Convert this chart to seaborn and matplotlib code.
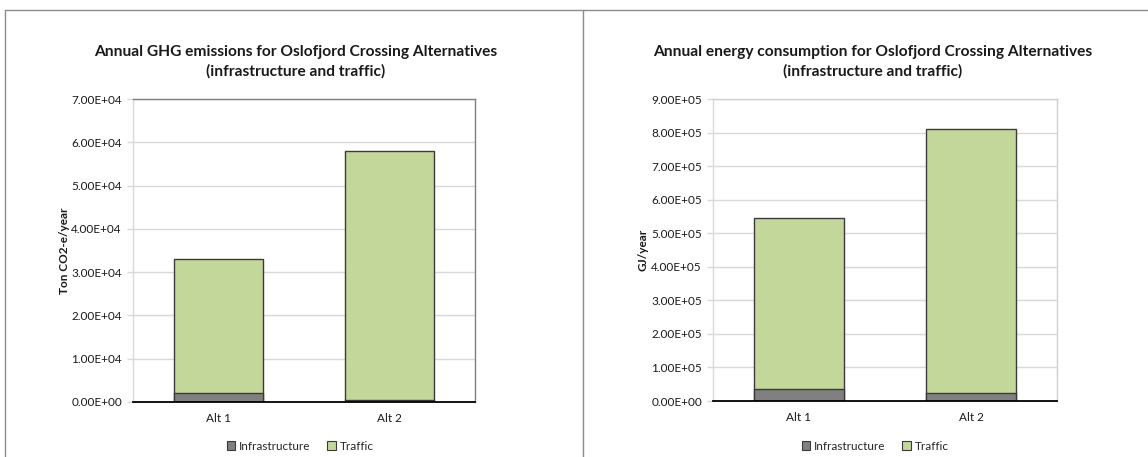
import matplotlib
matplotlib.use("Agg")
import matplotlib.pyplot as plt
from matplotlib.lines import Line2D
from matplotlib.patches import Patch
from matplotlib.ticker import FuncFormatter, FixedLocator
import pandas as pd
import seaborn as sns

# ---- data -------------------------------------------------------------
alternatives = ["Alt 1", "Alt 2"]
ghg_infrastructure = [2000, 500]          # ton CO2-e / year
ghg_traffic = [31100, 57500]
energy_infrastructure = [37000, 24000]    # GJ / year
energy_traffic = [508000, 786000]

series_names = ["Infrastructure", "Traffic"]
ghg_ticks = [0, 10000, 20000, 30000, 40000, 50000, 60000, 70000]
energy_ticks = [0, 100000, 200000, 300000, 400000, 500000, 600000, 700000, 800000, 900000]

# ---- style ------------------------------------------------------------
sns.set_theme(style="white")
plt.rcParams["font.family"] = ["Lato", "DejaVu Sans"]

INFRA_COLOR = "#808080"
TRAFFIC_COLOR = "#c4d79b"
EDGE_COLOR = "#3a3a3a"
GRID_COLOR = "#d9d9d9"
TEXT_COLOR = "#1a1a1a"
SMALL = 8.5

fig = plt.figure(figsize=(11.48, 4.57), dpi=100)
W, H = 1148, 457


def px_axes(x0, y0, x1, y1):
    return fig.add_axes([x0 / W, 1 - y1 / H, (x1 - x0) / W, (y1 - y0) / H])


def draw_panel(ax, infra, traffic, ticks, ylabel, frame_color, labelpad):
    df = pd.DataFrame({
        "alt": alternatives,
        "infra": infra,
        "total": [a + b for a, b in zip(infra, traffic)],
    })
    # stacked look: full-height traffic bar, infrastructure bar on its base
    sns.barplot(data=df, x="alt", y="total", color=TRAFFIC_COLOR, width=0.52,
                saturation=1, edgecolor=EDGE_COLOR, linewidth=1.0, ax=ax, zorder=3)
    sns.barplot(data=df, x="alt", y="infra", color=INFRA_COLOR, width=0.52,
                saturation=1, edgecolor=EDGE_COLOR, linewidth=1.0, ax=ax, zorder=4)

    ax.set_xlim(-0.5, 1.5)
    ax.set_ylim(ticks[0], ticks[-1])
    ax.yaxis.set_major_locator(FixedLocator(ticks))
    ax.yaxis.set_major_formatter(FuncFormatter(lambda v, p: f"{v:.2E}"))
    ax.grid(axis="y", color=GRID_COLOR, linewidth=1.0, zorder=0)
    ax.set_axisbelow(True)

    ax.set_xlabel("")
    ax.set_ylabel(ylabel, fontsize=SMALL, fontweight="bold", color=TEXT_COLOR, labelpad=labelpad)

    # category labels without marks, boundary marks below the axis
    ax.tick_params(axis="x", which="major", length=0, pad=8, labelsize=SMALL, colors=TEXT_COLOR)
    ax.xaxis.set_minor_locator(FixedLocator([-0.5, 0.5, 1.5]))
    ax.tick_params(axis="x", which="minor", length=4, width=1.2, color="black", direction="out")
    ax.tick_params(axis="y", which="major", length=4, width=1.0, color=GRID_COLOR,
                   direction="out", pad=4, labelsize=SMALL, labelcolor=TEXT_COLOR, left=True)

    for side in ("top", "right"):
        ax.spines[side].set_visible(True)
        ax.spines[side].set_color(frame_color)
        ax.spines[side].set_linewidth(1.0)
    ax.spines["left"].set_color(GRID_COLOR)
    ax.spines["left"].set_linewidth(1.0)
    ax.spines["bottom"].set_color("black")
    ax.spines["bottom"].set_linewidth(1.3)
    ax.spines["bottom"].set_zorder(6)


ax1 = px_axes(133, 99, 475, 402)
draw_panel(ax1, ghg_infrastructure, ghg_traffic, ghg_ticks, "Ton CO2-e/year", "#7f7f7f", 1)

ax2 = px_axes(713, 99, 1057, 401)
draw_panel(ax2, energy_infrastructure, energy_traffic, energy_ticks, "GJ/year", "#d0d0d0", 2)

# titles
fig.text(296 / W, 1 - 62 / H,
         "Annual GHG emissions for Oslofjord Crossing Alternatives\n(infrastructure and traffic)",
         ha="center", va="center", fontsize=11.2, fontweight="bold", color=TEXT_COLOR,
         linespacing=1.4)
fig.text(873 / W, 1 - 62 / H,
         "Annual energy consumption for Oslofjord Crossing Alternatives\n(infrastructure and traffic)",
         ha="center", va="center", fontsize=11.2, fontweight="bold", color=TEXT_COLOR,
         linespacing=1.4)

# legends
handles = [Patch(facecolor=INFRA_COLOR, edgecolor=EDGE_COLOR, linewidth=0.8),
           Patch(facecolor=TRAFFIC_COLOR, edgecolor=EDGE_COLOR, linewidth=0.8)]
for cx in (300, 875):
    fig.legend(handles, series_names, loc="center", bbox_to_anchor=(cx / W, 1 - 446 / H),
               ncol=2, frameon=False, fontsize=SMALL, handlelength=0.75, handleheight=0.75,
               handletextpad=0.3, columnspacing=1.4, borderaxespad=0)

# chart-area frames
frame = dict(color="#8c8c8c", linewidth=1.0, transform=fig.transFigure)
fig.add_artist(Line2D([5 / W, 1], [1 - 10 / H, 1 - 10 / H], **frame))
fig.add_artist(Line2D([5 / W, 5 / W], [0, 1 - 10 / H], **frame))
fig.add_artist(Line2D([583 / W, 583 / W], [0, 1 - 10 / H], **frame))

fig.savefig("out.png", dpi=100, facecolor="white")
